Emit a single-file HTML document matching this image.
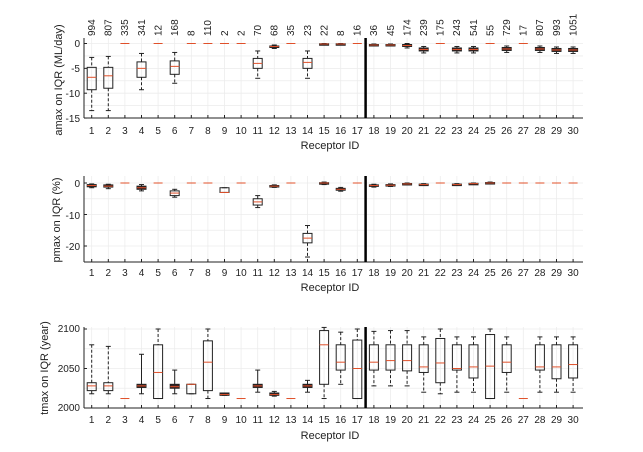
<!DOCTYPE html>
<html><head><meta charset="utf-8"><style>
html,body{margin:0;padding:0;background:#fff;}
svg{display:block;font-family:"Liberation Sans",Arial,sans-serif;}
</style></head><body>
<svg id="s" width="643" height="452" viewBox="0 0 643 452" xmlns="http://www.w3.org/2000/svg">
<g id="grid" stroke="#ececec" stroke-width="0.8"></g>
<g id="shapes"></g>
<g font-size="10" fill="#222" text-anchor="middle">
<!-- top panel -->
<g id="t1"></g>
<text x="91.7" y="134">1</text><text x="108.3" y="134">2</text><text x="124.9" y="134">3</text><text x="141.5" y="134">4</text><text x="158.1" y="134">5</text><text x="174.7" y="134">6</text><text x="191.3" y="134">7</text><text x="207.9" y="134">8</text><text x="224.5" y="134">9</text><text x="241.1" y="134">10</text><text x="257.7" y="134">11</text><text x="274.3" y="134">12</text><text x="290.9" y="134">13</text><text x="307.5" y="134">14</text><text x="324.1" y="134">15</text><text x="340.7" y="134">16</text><text x="357.3" y="134">17</text><text x="373.9" y="134">18</text><text x="390.5" y="134">19</text><text x="407.1" y="134">20</text><text x="423.7" y="134">21</text><text x="440.3" y="134">22</text><text x="456.9" y="134">23</text><text x="473.5" y="134">24</text><text x="490.1" y="134">25</text><text x="506.7" y="134">26</text><text x="523.3" y="134">27</text><text x="539.9" y="134">28</text><text x="556.5" y="134">29</text><text x="573.1" y="134">30</text>
<text x="330" y="149" font-size="11">Receptor ID</text>
<g text-anchor="end"><text x="80" y="47">0</text><text x="80" y="72">-5</text><text x="80" y="97">-10</text><text x="80" y="122">-15</text></g>
<text transform="translate(62,80) rotate(-90)" font-size="11">amax on IQR (ML/day)</text>
<!-- counts -->
<g text-anchor="start">
<text transform="translate(95,36) rotate(-90)">994</text><text transform="translate(111.6,36) rotate(-90)">807</text><text transform="translate(128.2,36) rotate(-90)">335</text><text transform="translate(144.8,36) rotate(-90)">341</text><text transform="translate(161.4,36) rotate(-90)">12</text><text transform="translate(178,36) rotate(-90)">168</text><text transform="translate(194.6,36) rotate(-90)">8</text><text transform="translate(211.2,36) rotate(-90)">110</text><text transform="translate(227.8,36) rotate(-90)">2</text><text transform="translate(244.4,36) rotate(-90)">2</text><text transform="translate(261,36) rotate(-90)">70</text><text transform="translate(277.6,36) rotate(-90)">68</text><text transform="translate(294.2,36) rotate(-90)">35</text><text transform="translate(310.8,36) rotate(-90)">23</text><text transform="translate(327.4,36) rotate(-90)">22</text><text transform="translate(344,36) rotate(-90)">8</text><text transform="translate(360.6,36) rotate(-90)">16</text><text transform="translate(377.2,36) rotate(-90)">36</text><text transform="translate(393.8,36) rotate(-90)">45</text><text transform="translate(410.4,36) rotate(-90)">174</text><text transform="translate(427,36) rotate(-90)">239</text><text transform="translate(443.6,36) rotate(-90)">175</text><text transform="translate(460.2,36) rotate(-90)">243</text><text transform="translate(476.8,36) rotate(-90)">541</text><text transform="translate(493.4,36) rotate(-90)">55</text><text transform="translate(510,36) rotate(-90)">729</text><text transform="translate(526.6,36) rotate(-90)">17</text><text transform="translate(543.2,36) rotate(-90)">807</text><text transform="translate(559.8,36) rotate(-90)">993</text><text transform="translate(576.4,36) rotate(-90)">1051</text>
</g>
<!-- middle panel -->
<text x="91.7" y="276">1</text><text x="108.3" y="276">2</text><text x="124.9" y="276">3</text><text x="141.5" y="276">4</text><text x="158.1" y="276">5</text><text x="174.7" y="276">6</text><text x="191.3" y="276">7</text><text x="207.9" y="276">8</text><text x="224.5" y="276">9</text><text x="241.1" y="276">10</text><text x="257.7" y="276">11</text><text x="274.3" y="276">12</text><text x="290.9" y="276">13</text><text x="307.5" y="276">14</text><text x="324.1" y="276">15</text><text x="340.7" y="276">16</text><text x="357.3" y="276">17</text><text x="373.9" y="276">18</text><text x="390.5" y="276">19</text><text x="407.1" y="276">20</text><text x="423.7" y="276">21</text><text x="440.3" y="276">22</text><text x="456.9" y="276">23</text><text x="473.5" y="276">24</text><text x="490.1" y="276">25</text><text x="506.7" y="276">26</text><text x="523.3" y="276">27</text><text x="539.9" y="276">28</text><text x="556.5" y="276">29</text><text x="573.1" y="276">30</text>
<text x="330" y="291" font-size="11">Receptor ID</text>
<g text-anchor="end"><text x="80" y="187">0</text><text x="80" y="219">-10</text><text x="80" y="250">-20</text></g>
<text transform="translate(60,220) rotate(-90)" font-size="11">pmax on IQR (%)</text>
<!-- bottom panel -->
<text x="91.7" y="423">1</text><text x="108.3" y="423">2</text><text x="124.9" y="423">3</text><text x="141.5" y="423">4</text><text x="158.1" y="423">5</text><text x="174.7" y="423">6</text><text x="191.3" y="423">7</text><text x="207.9" y="423">8</text><text x="224.5" y="423">9</text><text x="241.1" y="423">10</text><text x="257.7" y="423">11</text><text x="274.3" y="423">12</text><text x="290.9" y="423">13</text><text x="307.5" y="423">14</text><text x="324.1" y="423">15</text><text x="340.7" y="423">16</text><text x="357.3" y="423">17</text><text x="373.9" y="423">18</text><text x="390.5" y="423">19</text><text x="407.1" y="423">20</text><text x="423.7" y="423">21</text><text x="440.3" y="423">22</text><text x="456.9" y="423">23</text><text x="473.5" y="423">24</text><text x="490.1" y="423">25</text><text x="506.7" y="423">26</text><text x="523.3" y="423">27</text><text x="539.9" y="423">28</text><text x="556.5" y="423">29</text><text x="573.1" y="423">30</text>
<text x="330" y="439" font-size="11">Receptor ID</text>
<g text-anchor="end"><text x="80" y="332">2100</text><text x="80" y="372">2050</text><text x="80" y="411">2000</text></g>
<text transform="translate(48,368) rotate(-90)" font-size="11">tmax on IQR (year)</text>
</g>
</svg>
<script>
var NS="http://www.w3.org/2000/svg";
var sh=document.getElementById('shapes'),gr=document.getElementById('grid');
function el(p,t,a){var e=document.createElementNS(NS,t);for(var k in a)e.setAttribute(k,a[k]);p.appendChild(e);return e;}
function X(i){return 91.7+16.6*(i-1);}
var panels=[
 {top:38,bot:118,f:function(v){return 43.5-4.97*v;},yt:[0,-5,-10,-15],minor:[-2.5,-7.5,-12.5],
  d:[[-2.8,-4.8,-6.8,-9.3,-13.5],[-2.6,-4.8,-6.5,-9,-13.5],0,[-2,-3.7,-5,-6.8,-9.3],0,[-1.8,-3.5,-4.6,-6.2,-8],0,0,0,0,[-1.5,-3,-4,-5,-7],[-0.3,-0.5,-0.6,-0.8,-1],0,[-1.5,-3,-3.8,-5,-7],[0,-0.05,-0.1,-0.15,-0.2],[0,-0.05,-0.1,-0.15,-0.2],0,
   [-0.1,-0.2,-0.3,-0.45,-0.5],[-0.1,-0.2,-0.3,-0.45,-0.5],[0,-0.2,-0.4,-0.6,-0.9],[-0.6,-0.9,-1.2,-1.5,-1.9],0,[-0.6,-0.9,-1.2,-1.5,-1.9],[-0.6,-0.9,-1.2,-1.5,-1.9],0,[-0.5,-0.8,-1.1,-1.4,-1.8],0,[-0.5,-0.8,-1.1,-1.4,-1.8],[-0.7,-1,-1.3,-1.6,-2],[-0.7,-1,-1.3,-1.6,-2]]},
 {top:176,bot:262,f:function(v){return 183-3.15*v;},yt:[0,-10,-20],minor:[-5,-15],
  d:[[-0.3,-0.5,-0.8,-1.2,-1.5],[-0.4,-0.6,-1,-1.3,-1.8],0,[-0.5,-1,-1.5,-2,-2.5],0,[-2,-2.5,-3.2,-4,-4.5],0,0,[-1.5,-1.5,-3,-3,-3],0,[-4,-5,-6,-7,-7.8],[-0.6,-0.8,-1,-1.2,-1.4],0,[-13.5,-16,-17.5,-19,-23.5],[0.3,0.1,0,-0.2,-0.5],[-1.4,-1.7,-2,-2.3,-2.6],0,
   [-0.4,-0.6,-0.8,-1,-1.3],[-0.3,-0.5,-0.7,-0.9,-1.1],[0,-0.15,-0.3,-0.45,-0.6],[-0.2,-0.35,-0.5,-0.65,-0.8],0,[-0.2,-0.35,-0.5,-0.65,-0.8],[0,-0.1,-0.2,-0.3,-0.4],[0.3,0.15,0,-0.1,-0.2],0,0,0,0,0]},
 {top:327,bot:408,f:function(v){return 408-0.79*(v-2000);},yt:[2000,2050,2100],minor:[2025,2075],
  d:[[2080,2032,2028,2022,2018],[2078,2032,2028,2022,2018],2012,[2068,2030,2028,2026,2018],[2100,2080,2045,2012,2012],[2048,2030,2027,2025,2018],[2030,2030,2030,2018,2018],[2100,2085,2058,2022,2012],[2019,2019,2017,2016,2016],2012,[2048,2030,2028,2026,2020],[2021,2019,2017,2016,2015],2012,[2035,2030,2028,2026,2020],[2102,2098,2080,2030,2012],[2096,2080,2058,2048,2030],[2100,2086,2050,2012,2012],
   [2097,2080,2058,2048,2028],[2098,2080,2060,2048,2028],[2098,2080,2060,2047,2028],[2090,2080,2052,2045,2020],[2100,2088,2057,2032,2018],[2090,2080,2050,2048,2020],[2090,2080,2052,2038,2020],[2100,2093,2053,2012,2012],[2090,2080,2058,2045,2020],2012,[2090,2080,2052,2048,2020],[2090,2080,2052,2037,2020],[2090,2080,2055,2038,2020]]}
];
panels.forEach(function(p){
 var L=84,R=583;
 for(var i=1;i<=30;i++)el(gr,'line',{x1:X(i),x2:X(i),y1:p.top,y2:p.bot});
 p.yt.concat(p.minor).forEach(function(v){el(gr,'line',{x1:L,x2:R,y1:p.f(v),y2:p.f(v)});});
 p.d.forEach(function(d,k){
  var x=X(k+1),w=4.5;
  if(typeof d==='number'){el(sh,'line',{x1:x-w,x2:x+w,y1:p.f(d),y2:p.f(d),stroke:'#e0502a','stroke-width':1});return;}
  var yw1=p.f(d[0]),yq3=p.f(d[1]),ym=p.f(d[2]),yq1=p.f(d[3]),yw2=p.f(d[4]);
  var small=(yq1-yq3)<4;
  el(sh,'line',{x1:x,x2:x,y1:yw1,y2:yq3,stroke:'#222','stroke-width':1,'stroke-dasharray':small?'':'3,2'});
  el(sh,'line',{x1:x,x2:x,y1:yq1,y2:yw2,stroke:'#222','stroke-width':1,'stroke-dasharray':small?'':'3,2'});
  el(sh,'line',{x1:x-2.5,x2:x+2.5,y1:yw1,y2:yw1,stroke:'#222','stroke-width':1});
  el(sh,'line',{x1:x-2.5,x2:x+2.5,y1:yw2,y2:yw2,stroke:'#222','stroke-width':1});
  el(sh,'rect',{x:x-w,y:yq3,width:2*w,height:Math.max(yq1-yq3,1.5),fill:small?'#3a2020':'none',stroke:'#222','stroke-width':1});
  el(sh,'line',{x1:x-w,x2:x+w,y1:ym,y2:ym,stroke:'#e0502a','stroke-width':1});
 });
 el(sh,'line',{x1:L,x2:R,y1:p.bot,y2:p.bot,stroke:'#222','stroke-width':1});
 el(sh,'line',{x1:L,x2:L,y1:p.top,y2:p.bot,stroke:'#222','stroke-width':1});
 for(var i=1;i<=30;i++)el(sh,'line',{x1:X(i),x2:X(i),y1:p.bot,y2:p.bot-3,stroke:'#222','stroke-width':1});
 p.yt.forEach(function(v){el(sh,'line',{x1:L,x2:L+3,y1:p.f(v),y2:p.f(v),stroke:'#222','stroke-width':1});});
 el(sh,'line',{x1:365.6,x2:365.6,y1:p.top,y2:p.bot,stroke:'#000','stroke-width':2.5});
});
</script>
</body></html>
